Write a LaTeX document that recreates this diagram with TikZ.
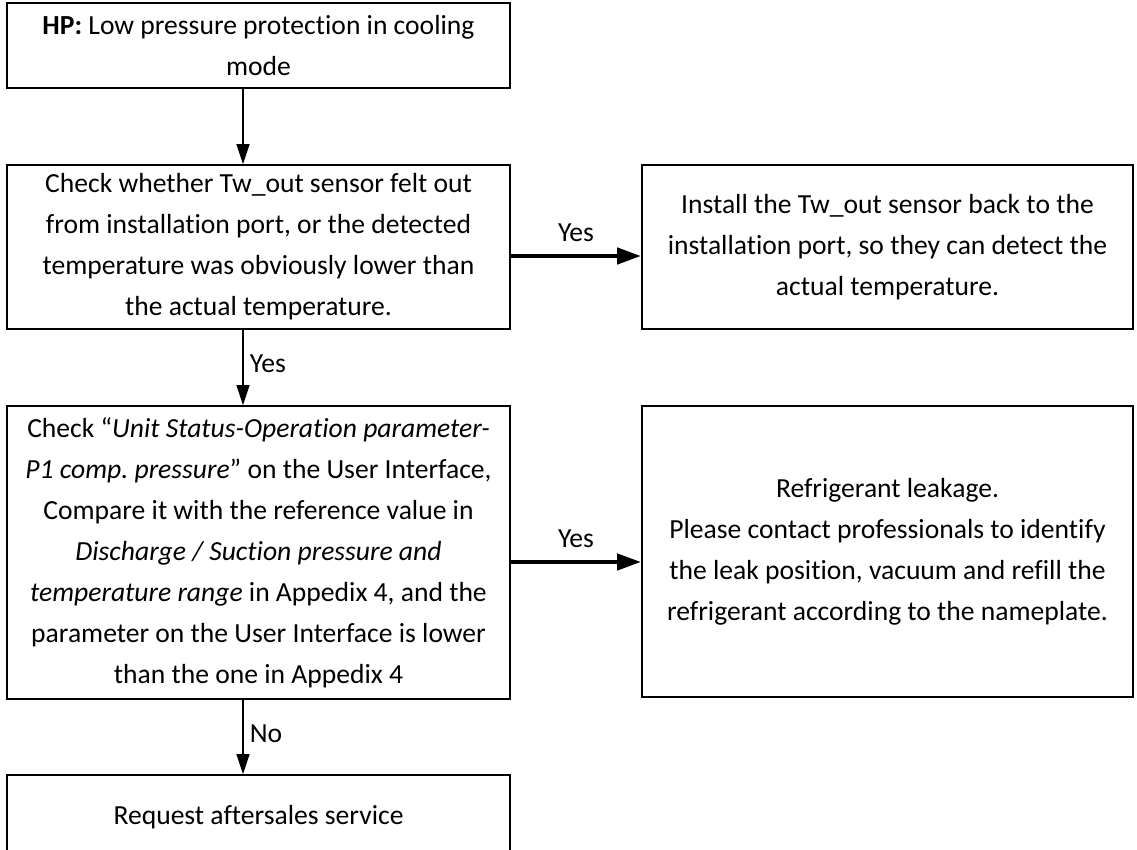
\documentclass[tikz,border=0pt]{standalone}
\usepackage{fontspec}
\setmainfont{Carlito}[RawFeature=-liga]
\usetikzlibrary{arrows.meta,positioning,calc}
\frenchspacing

\begin{document}
\begin{tikzpicture}[
    x=0.5pt, y=-0.5pt,
    box/.style={draw=black, line width=0.9pt, align=center, inner sep=0pt,
      font=\fontsize{13.8}{20.5}\selectfont},
    leftbox/.style={box, minimum width=251.5pt},
    rightbox/.style={box, minimum width=245.5pt},
    arr/.style={-{Triangle[length=10pt,width=6.5pt]}, line width=0.8pt},
    yesarr/.style={-{Triangle[length=12pt,width=8pt]}, line width=2.2pt},
    lab/.style={font=\fontsize{13.8}{16}\selectfont, inner sep=0pt}
  ]
    \useasboundingbox (0,0) rectangle (1137,850);
    \clip (0,0) rectangle (1137,850);
    % main column
    \node[leftbox, minimum height=42.5pt] (hp) at (258.5,45.5)
      {\textbf{HP:} Low pressure protection in cooling\\mode};
    \node[leftbox, minimum height=82pt] (tw) at (258.5,247)
      {Check whether Tw\_out sensor felt out\\from installation port, or the detected\\temperature was obviously lower than\\the actual temperature.};
    \node[leftbox, minimum height=146.5pt] (p1) at (258.5,552.5)
      {Check ``\textit{Unit Status-Operation parameter-}\\\textit{P1 comp. pressure}'' on the User Interface,\\Compare it with the reference value in\\\textit{Discharge / Suction pressure and}\\\textit{temperature range} in Appedix 4, and the\\parameter on the User Interface is lower\\than the one in Appedix 4};
    \node[leftbox, minimum height=42pt] (req) at (258.5,817)
      {Request aftersales service};
    % right column
    \node[rightbox, minimum height=82pt] (inst) at (887.5,247)
      {Install the Tw\_out sensor back to the\\installation port, so they can detect the\\actual temperature.};
    \node[rightbox, minimum height=145.5pt] (leak) at (887.5,551.5)
      {Refrigerant leakage.\\Please contact professionals to identify\\the leak position, vacuum and refill the\\refrigerant according to the nameplate.};
    % arrows
    \coordinate (ax) at (243,0);
    \draw[arr] (hp.south -| ax) -- (tw.north -| ax);
    \draw[arr] (tw.south -| ax) -- node[lab, right=3pt, pos=0.45] {Yes} (p1.north -| ax);
    \draw[arr] (p1.south -| ax) -- node[lab, right=3pt, pos=0.45] {No} (req.north -| ax);
    \draw[yesarr] ($(tw.east)+(0,9)$) -- node[lab, above=6pt] {Yes} ($(inst.west)+(0,9)$);
    \draw[yesarr] ($(p1.east)+(0,9.5)$) -- node[lab, above=6pt] {Yes} ($(leak.west)+(0,10.5)$);
  \end{tikzpicture}
\end{document}
